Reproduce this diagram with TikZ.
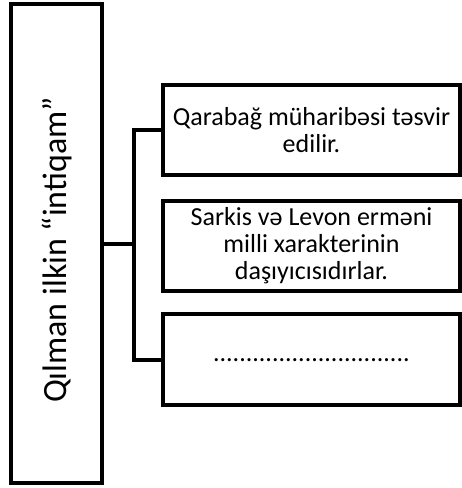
\documentclass[tikz,border=0pt]{standalone}
\usepackage{fontspec}
\setmainfont{Carlito}
\usetikzlibrary{positioning}
\tikzset{
  frame/.style={
    draw,
    line width=4pt,
    inner sep=0pt,
    align=center
  },
  item/.style={
    frame,
    minimum width=297pt,
    minimum height=90pt,
    font=\fontsize{26}{27}\selectfont
  },
  link/.style={
    draw,
    line width=4pt
  }
}

\begin{document}
\begin{tikzpicture}[x=1pt,y=1pt]
  \useasboundingbox (0,0) rectangle (462,488);
  \node[frame, minimum width=91pt, minimum height=479pt] (title) at (56.7,244) {};
  \node[rotate=90, font=\fontsize{34}{40}\selectfont] (titletext) at ([yshift=-6pt]title.center) {Qılman ilkin “intiqam”};
  \node[item] (war) at (311.5,357.8) {Qarabağ müharibəsi təsvir\\edilir.};
  \node[item] (hero) at (311.5,242) {Sarkis və Levon erməni\\milli xarakterinin\\daşıyıcısıdırlar.};
  \node[item, minimum height=91pt] (blank) at (311.5,128) {..............................};
  \coordinate (fork) at ([xshift=29.5pt]title.east);
  \draw[link] (title.east) -- (fork);
  \draw[link] (war.west) -| (fork) |- (blank.west);
\end{tikzpicture}
\end{document}
